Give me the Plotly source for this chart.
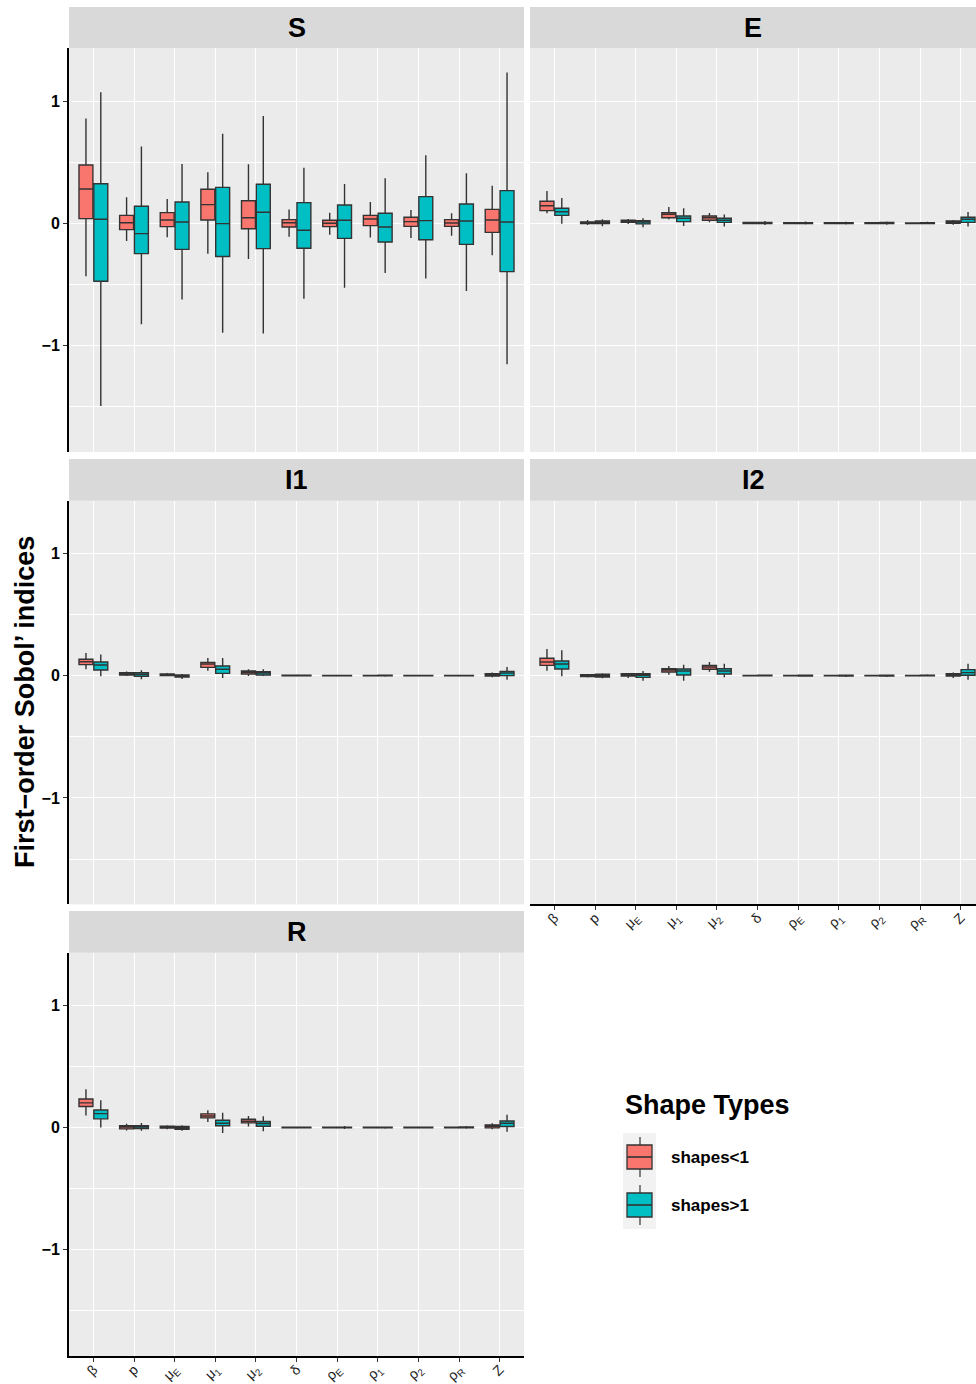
import plotly.graph_objects as go

W, H = 976, 1384          # reference geometry in pixels (figure fills the window)

# ---------------- data ----------------
cat_keys = ["beta", "p", "muE", "mu1", "mu2", "delta", "rhoE", "rho1", "rho2", "rhoR", "Z"]
cat_labels = ["β", "p", "μ<sub>E</sub>", "μ<sub>1</sub>", "μ<sub>2</sub>", "δ",
              "ρ<sub>E</sub>", "ρ<sub>1</sub>", "ρ<sub>2</sub>", "ρ<sub>R</sub>", "Z"]
panel_names = ["S", "E", "I1", "I2", "R"]
group_names = ["shapes<1", "shapes>1"]
y_tick_vals = [-1, 0, 1]
y_tick_text = ["−1", "0", "1"]

S_lt = dict(
    hi=[0.858, 0.213, 0.199, 0.417, 0.482, 0.112, 0.087, 0.174, 0.109, 0.082, 0.308],
    q3=[0.477, 0.065, 0.087, 0.278, 0.185, 0.030, 0.025, 0.065, 0.049, 0.030, 0.114],
    med=[0.281, 0.005, 0.027, 0.153, 0.046, 0.005, 0.000, 0.035, 0.014, 0.003, 0.027],
    q1=[0.038, -0.052, -0.027, 0.027, -0.044, -0.030, -0.027, -0.019, -0.025, -0.025, -0.074],
    lo=[-0.433, -0.144, -0.114, -0.248, -0.292, -0.109, -0.093, -0.117, -0.120, -0.101, -0.262])
S_gt = dict(
    hi=[1.071, 0.629, 0.485, 0.733, 0.877, 0.455, 0.322, 0.368, 0.556, 0.409, 1.234],
    q3=[0.324, 0.139, 0.174, 0.294, 0.319, 0.169, 0.150, 0.082, 0.218, 0.158, 0.267],
    med=[0.033, -0.084, 0.011, -0.003, 0.090, -0.057, 0.025, -0.030, 0.022, 0.019, 0.011],
    q1=[-0.474, -0.248, -0.213, -0.272, -0.207, -0.204, -0.123, -0.153, -0.134, -0.172, -0.395],
    lo=[-1.493, -0.826, -0.624, -0.894, -0.902, -0.616, -0.526, -0.406, -0.452, -0.553, -1.153])

E_lt = dict(
    hi=[0.264, 0.027, 0.035, 0.134, 0.084, 0.012, 0.010, 0.010, 0.010, 0.008, 0.027],
    q3=[0.180, 0.012, 0.025, 0.087, 0.060, 0.006, 0.004, 0.004, 0.005, 0.003, 0.019],
    med=[0.144, 0.005, 0.016, 0.074, 0.046, 0.002, 0.001, 0.001, 0.001, 0.000, 0.011],
    q1=[0.104, -0.001, 0.008, 0.046, 0.025, -0.002, -0.002, -0.002, -0.002, -0.002, 0.000],
    lo=[0.082, -0.014, -0.005, 0.033, 0.008, -0.008, -0.006, -0.006, -0.007, -0.006, -0.011])
E_gt = dict(
    hi=[0.207, 0.033, 0.041, 0.123, 0.071, 0.019, 0.014, 0.012, 0.015, 0.012, 0.093],
    q3=[0.123, 0.019, 0.022, 0.060, 0.041, 0.008, 0.005, 0.005, 0.006, 0.005, 0.049],
    med=[0.095, 0.008, 0.011, 0.041, 0.025, 0.004, 0.001, 0.001, 0.002, 0.001, 0.033],
    q1=[0.065, -0.003, -0.005, 0.014, 0.008, -0.002, -0.003, -0.003, -0.003, -0.003, 0.008],
    lo=[-0.003, -0.025, -0.033, -0.022, -0.027, -0.014, -0.010, -0.009, -0.011, -0.008, -0.027])

I1_lt = dict(
    hi=[0.185, 0.035, 0.022, 0.144, 0.052, 0.006, 0.005, 0.005, 0.005, 0.005, 0.025],
    q3=[0.134, 0.025, 0.014, 0.109, 0.038, 0.003, 0.002, 0.002, 0.002, 0.002, 0.016],
    med=[0.114, 0.016, 0.008, 0.095, 0.027, 0.001, 0.000, 0.000, 0.000, 0.000, 0.008],
    q1=[0.090, 0.005, 0.000, 0.068, 0.014, -0.001, -0.002, -0.002, -0.002, -0.002, -0.003],
    lo=[0.052, -0.003, -0.005, 0.041, -0.003, -0.005, -0.004, -0.004, -0.004, -0.004, -0.014])
I1_gt = dict(
    hi=[0.174, 0.044, 0.014, 0.144, 0.052, 0.008, 0.006, 0.008, 0.006, 0.006, 0.071],
    q3=[0.112, 0.025, 0.005, 0.079, 0.033, 0.003, 0.002, 0.003, 0.002, 0.002, 0.035],
    med=[0.087, 0.011, -0.003, 0.052, 0.022, 0.001, 0.000, 0.000, 0.000, 0.000, 0.022],
    q1=[0.046, -0.005, -0.011, 0.019, 0.005, -0.002, -0.002, -0.002, -0.002, -0.002, 0.000],
    lo=[-0.005, -0.030, -0.027, -0.019, -0.003, -0.007, -0.005, -0.008, -0.005, -0.005, -0.033])

I2_lt = dict(
    hi=[0.218, 0.014, 0.022, 0.079, 0.112, 0.005, 0.005, 0.005, 0.005, 0.005, 0.025],
    q3=[0.142, 0.008, 0.016, 0.057, 0.084, 0.002, 0.002, 0.002, 0.002, 0.002, 0.016],
    med=[0.112, 0.000, 0.008, 0.046, 0.071, 0.000, 0.000, 0.000, 0.000, 0.000, 0.008],
    q1=[0.084, -0.008, -0.003, 0.030, 0.052, -0.002, -0.002, -0.002, -0.002, -0.002, -0.003],
    lo=[0.041, -0.016, -0.019, 0.008, 0.033, -0.004, -0.004, -0.004, -0.004, -0.004, -0.019])
I2_gt = dict(
    hi=[0.207, 0.019, 0.038, 0.090, 0.098, 0.006, 0.010, 0.010, 0.010, 0.012, 0.098],
    q3=[0.120, 0.011, 0.016, 0.054, 0.057, 0.003, 0.003, 0.003, 0.003, 0.004, 0.049],
    med=[0.095, 0.000, 0.003, 0.038, 0.038, 0.001, 0.000, 0.000, 0.000, 0.001, 0.025],
    q1=[0.054, -0.011, -0.014, 0.005, 0.014, -0.002, -0.003, -0.003, -0.003, -0.002, 0.003],
    lo=[-0.005, -0.022, -0.041, -0.041, -0.014, -0.005, -0.009, -0.010, -0.010, -0.006, -0.033])

R_lt = dict(
    hi=[0.313, 0.030, 0.019, 0.142, 0.095, 0.005, 0.005, 0.005, 0.005, 0.005, 0.035],
    q3=[0.234, 0.014, 0.011, 0.112, 0.068, 0.002, 0.002, 0.002, 0.002, 0.002, 0.022],
    med=[0.202, 0.003, 0.003, 0.095, 0.052, 0.000, 0.000, 0.000, 0.000, 0.000, 0.011],
    q1=[0.172, -0.011, -0.005, 0.079, 0.038, -0.002, -0.002, -0.002, -0.002, -0.002, -0.003],
    lo=[0.098, -0.025, -0.014, 0.046, 0.008, -0.004, -0.004, -0.004, -0.004, -0.004, -0.014])
R_gt = dict(
    hi=[0.223, 0.038, 0.019, 0.120, 0.093, 0.006, 0.012, 0.008, 0.008, 0.012, 0.104],
    q3=[0.144, 0.016, 0.008, 0.060, 0.049, 0.002, 0.003, 0.003, 0.002, 0.005, 0.054],
    med=[0.114, 0.005, -0.003, 0.035, 0.033, 0.000, 0.000, 0.000, 0.000, 0.001, 0.035],
    q1=[0.071, -0.008, -0.014, 0.014, 0.011, -0.002, -0.003, -0.003, -0.002, -0.003, 0.008],
    lo=[0.000, -0.027, -0.027, -0.044, -0.030, -0.005, -0.012, -0.009, -0.007, -0.010, -0.035])

panel_data = {"S": (S_lt, S_gt), "E": (E_lt, E_gt), "I1": (I1_lt, I1_gt),
              "I2": (I2_lt, I2_gt), "R": (R_lt, R_gt)}

# ---------------- styling / layout ----------------
FONT = "Liberation Sans, Arial, Helvetica, sans-serif"
fills = ["#F8766D", "#00BFC4"]
edge = "#333333"
panel_bg = "#EBEBEB"
strip_bg = "#D9D9D9"

# pixel geometry (x0, x1) per column and (strip_top, plot_top, plot_bottom) per row
cols = [(69, 524), (530, 976)]
rows = [(7, 48.3, 452), (459, 500.7, 904.3), (911, 952.7, 1356)]
pos = {"S": (0, 0), "E": (0, 1), "I1": (1, 0), "I2": (1, 1), "R": (2, 0)}
px_per_cat = (cols[0][1] - cols[0][0]) / 11.2
y_range = [-1.870, 1.431]

def px2x(p):
    return p / W

def py2y(p):
    return 1 - p / H

fig = go.Figure()
layout = dict(
    autosize=True, margin=dict(l=0, r=0, t=0, b=0, pad=0),
    paper_bgcolor="white", plot_bgcolor=panel_bg,
    boxmode="group", boxgap=0.27, boxgroupgap=0.06,
    showlegend=False, font=dict(family=FONT, color="black"),
)
shapes, annotations = [], []

for i, name in enumerate(panel_names):
    r, c = pos[name]
    ax = "" if i == 0 else str(i + 1)
    xa, ya = "x" + ax, "y" + ax
    x0, x1 = cols[c]
    st, pt, pb = rows[r]
    show_x = name in ("I2", "R")
    show_y = c == 0

    for g in range(2):
        d = panel_data[name][g]
        fig.add_trace(go.Box(
            x=cat_keys, q1=d["q1"], median=d["med"], q3=d["q3"],
            lowerfence=d["lo"], upperfence=d["hi"],
            name=group_names[g], offsetgroup=str(g),
            fillcolor=fills[g], line=dict(color=edge, width=1.4),
            whiskerwidth=0, boxpoints=False, hoverinfo="skip",
            xaxis=xa, yaxis=ya,
        ))

    xr0 = -0.6
    xr1 = xr0 + (x1 - x0) / px_per_cat
    layout["xaxis" + ax] = dict(
        domain=[px2x(x0), px2x(x1)], anchor=ya, type="category",
        categoryorder="array", categoryarray=cat_keys,
        range=[xr0, xr1], tickvals=cat_keys, ticktext=cat_labels,
        showticklabels=show_x, ticks="outside" if show_x else "",
        ticklen=4, tickwidth=1, tickcolor=edge, tickangle=-45,
        ticklabelstandoff=-6,
        tickfont=dict(family=FONT, size=14, color="#222222"),
        showgrid=True, gridcolor="white", gridwidth=1.2,
        showline=show_x, linecolor="black", linewidth=2,
        zeroline=False, fixedrange=True,
    )
    layout["yaxis" + ax] = dict(
        domain=[py2y(pb), py2y(pt)], anchor=xa, range=y_range,
        tickvals=y_tick_vals, ticktext=["<b>%s</b>" % t for t in y_tick_text],
        showticklabels=show_y, ticks="outside" if show_y else "",
        ticklen=4, tickwidth=1, tickcolor=edge,
        tickfont=dict(family=FONT, size=16, color="black"),
        showgrid=True, gridcolor="white", gridwidth=1.2,
        minor=dict(tickvals=[-1.5, -0.5, 0.5], showgrid=True,
                   gridcolor="white", gridwidth=0.6, ticks=""),
        showline=show_y, linecolor="black", linewidth=2,
        zeroline=False, fixedrange=True,
    )
    # facet strip
    shapes.append(dict(type="rect", xref="paper", yref="paper",
                       x0=px2x(x0), x1=px2x(x1), y0=py2y(pt), y1=py2y(st),
                       fillcolor=strip_bg, line=dict(width=0), layer="below"))
    annotations.append(dict(text="<b>%s</b>" % name, xref="paper", yref="paper",
                            x=px2x((x0 + min(x1, x0 + 455)) / 2), y=py2y((st + pt) / 2),
                            showarrow=False, xanchor="center", yanchor="middle",
                            font=dict(family=FONT, size=27, color="black")))

# y-axis title
annotations.append(dict(text="<b>First−order Sobol’ indices</b>", xref="paper", yref="paper",
                        x=px2x(25), y=py2y(702), textangle=-90, showarrow=False,
                        xanchor="center", yanchor="middle",
                        font=dict(family=FONT, size=27, color="black")))

# legend (drawn as a ggplot-style key)
annotations.append(dict(text="<b>Shape Types</b>", xref="paper", yref="paper",
                        x=px2x(623), y=py2y(1105), showarrow=False,
                        xanchor="left", yanchor="middle",
                        font=dict(family=FONT, size=27, color="black")))
key_tops = [1133, 1181]
for g in range(2):
    t = key_tops[g]
    shapes.append(dict(type="rect", xref="paper", yref="paper",
                       x0=px2x(623), x1=px2x(656), y0=py2y(t + 48), y1=py2y(t),
                       fillcolor="#F2F2F2", line=dict(width=0)))
    cx = 640
    shapes.append(dict(type="line", xref="paper", yref="paper",
                       x0=px2x(cx), x1=px2x(cx), y0=py2y(t + 44), y1=py2y(t + 4),
                       line=dict(color=edge, width=1.2)))
    shapes.append(dict(type="rect", xref="paper", yref="paper",
                       x0=px2x(627), x1=px2x(652), y0=py2y(t + 36), y1=py2y(t + 12),
                       fillcolor=fills[g], line=dict(color=edge, width=1.3)))
    shapes.append(dict(type="line", xref="paper", yref="paper",
                       x0=px2x(627), x1=px2x(652), y0=py2y(t + 24), y1=py2y(t + 24),
                       line=dict(color=edge, width=1.6)))
    annotations.append(dict(text="<b>%s</b>" % group_names[g], xref="paper", yref="paper",
                            x=px2x(669), y=py2y(t + 24), showarrow=False,
                            xanchor="left", yanchor="middle",
                            font=dict(family=FONT, size=17, color="black")))

layout["shapes"] = shapes
layout["annotations"] = annotations
fig.update_layout(**layout)

page_fix = (
    "var de=document.documentElement, b=document.body;"
    "[de,b].forEach(function(e){e.style.margin='0px';e.style.padding='0px';"
    "e.style.overflow='hidden';});"
)
fig.write_html("out.html", config={"displayModeBar": False},
               default_width="100vw", default_height="100vh", post_script=page_fix)
